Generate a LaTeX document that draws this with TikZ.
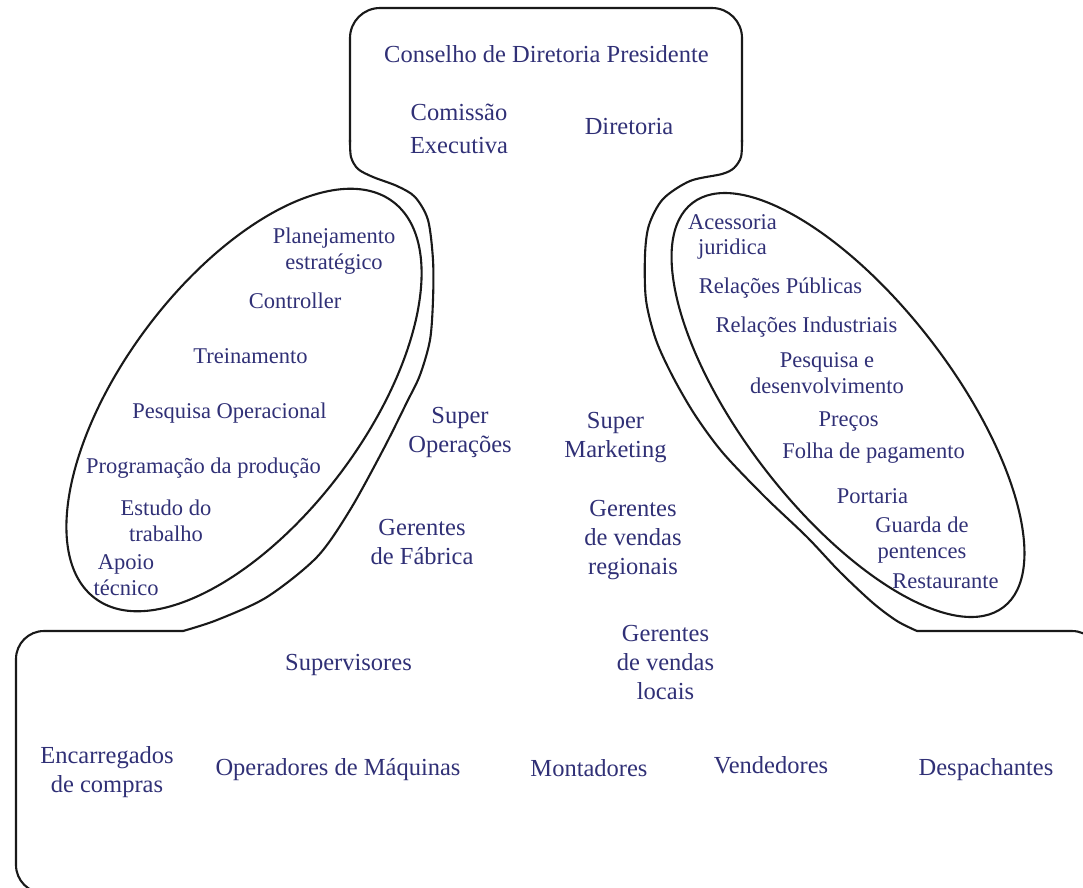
\documentclass[tikz,border=0pt]{standalone}
\usepackage{fontspec}
\setmainfont{Liberation Serif}
\definecolor{ink}{RGB}{48,48,118}
\definecolor{edge}{RGB}{25,25,25}
\tikzset{
  lbl/.style={text=ink, align=center, inner sep=0pt, font=\fontsize{22.5}{25.5}\selectfont},
  big/.style={lbl, font=\fontsize{24.5}{29}\selectfont},
  outline/.style={draw=edge, line width=2.1pt, line cap=round, line join=round}
}
\begin{document}
\begin{tikzpicture}[x=1pt, y=-1pt]
  \path[use as bounding box] (0,0) rectangle (1083,887);
  \clip (0,0) rectangle (1083,887);

  % top box (board)
  \draw[outline, rounded corners=30] (350,142) -- (350,8) -- (742,8) -- (742,142);
  % left funnel wrapping the staff ellipse
  \draw[outline] plot[smooth] coordinates {(350,140) (351,157) (358,169) (373,177) (397,186)
    (415,197) (428,220) (433,260) (433,300) (430,340) (420,375) (407,402) (383,450)
    (350,510) (317,557) (267,597) (217,620) (183,631)};
  % right funnel wrapping the services ellipse
  \draw[outline] plot[smooth] coordinates {(742,140) (741,157) (734,168) (722,174) (690,181)
    (663,199) (649,225) (645,255) (646,300) (656,340) (673,377) (695,415) (723,453)
    (765,497) (807,537) (840,572) (873,603) (897,621) (917,631)};
  % bottom box (operational level), its lower edge runs below the page
  \draw[outline, rounded corners=28] (183,631) -- (16,631) -- (16,893) -- (1100,893)
    -- (1100,631) -- (917,631);

  % staff ellipses
  \draw[outline, rotate around={53.1:(244,400)}] (244,400) ellipse [x radius=248, y radius=121];
  \draw[outline, rotate around={-52.4:(848,405)}] (848,405) ellipse [x radius=255, y radius=105];

  % board
  \node[big] (conselho) at (546.5,54) {Conselho de Diretoria Presidente};
  \node[big, font=\fontsize{24.5}{33}\selectfont] (comissao) at (459,129) {Comissão\\Executiva};
  \node[big] (diretoria) at (629,127) {Diretoria};

  % left ellipse
  \node[lbl] (planej) at (334,251) {Planejamento\\estratégico};
  \node[lbl] (controller) at (295,300.5) {Controller};
  \node[lbl] (treinam) at (250.5,356) {Treinamento};
  \node[lbl] (pesqop) at (229.5,413) {Pesquisa Operacional};
  \node[lbl] (progprod) at (203.5,468) {Programação da produção};
  \node[lbl] (estudo) at (166,521) {Estudo do\\trabalho};
  \node[lbl] (apoio) at (126,575) {Apoio\\técnico};

  % right ellipse
  \node[lbl] (juridica) at (732.5,237) {Acessoria\\juridica};
  \node[lbl] (relpub) at (780.5,288) {Relações Públicas};
  \node[lbl] (relind) at (806.5,327) {Relações Industriais};
  \node[lbl] (pesqdes) at (827,373) {Pesquisa e\\desenvolvimento};
  \node[lbl] (precos) at (848.5,422) {Preços};
  \node[lbl] (folha) at (873.5,453) {Folha de pagamento};
  \node[lbl] (portaria) at (872.5,496) {Portaria};
  \node[lbl] (guarda) at (922,540) {Guarda de\\pentences};
  \node[lbl] (restaur) at (945.5,581) {Restaurante};

  % middle column
  \node[big] (superop) at (460,432) {Super\\Operações};
  \node[big] (supermk) at (615.5,438) {Super\\Marketing};
  \node[big] (gerfab) at (422,542) {Gerentes\\de Fábrica};
  \node[big] (gerreg) at (633,540) {Gerentes\\de vendas\\regionais};

  % bottom box
  \node[big] (superv) at (348.5,665) {Supervisores};
  \node[big] (gerloc) at (665.5,662) {Gerentes\\de vendas\\locais};
  \node[big] (encarr) at (107,772) {Encarregados\\de compras};
  \node[big] (operad) at (338,770) {Operadores de Máquinas};
  \node[big] (montad) at (589,768) {Montadores};
  \node[big] (vended) at (771,765) {Vendedores};
  \node[big] (despach) at (986,770) {Despachantes};
\end{tikzpicture}
\end{document}
